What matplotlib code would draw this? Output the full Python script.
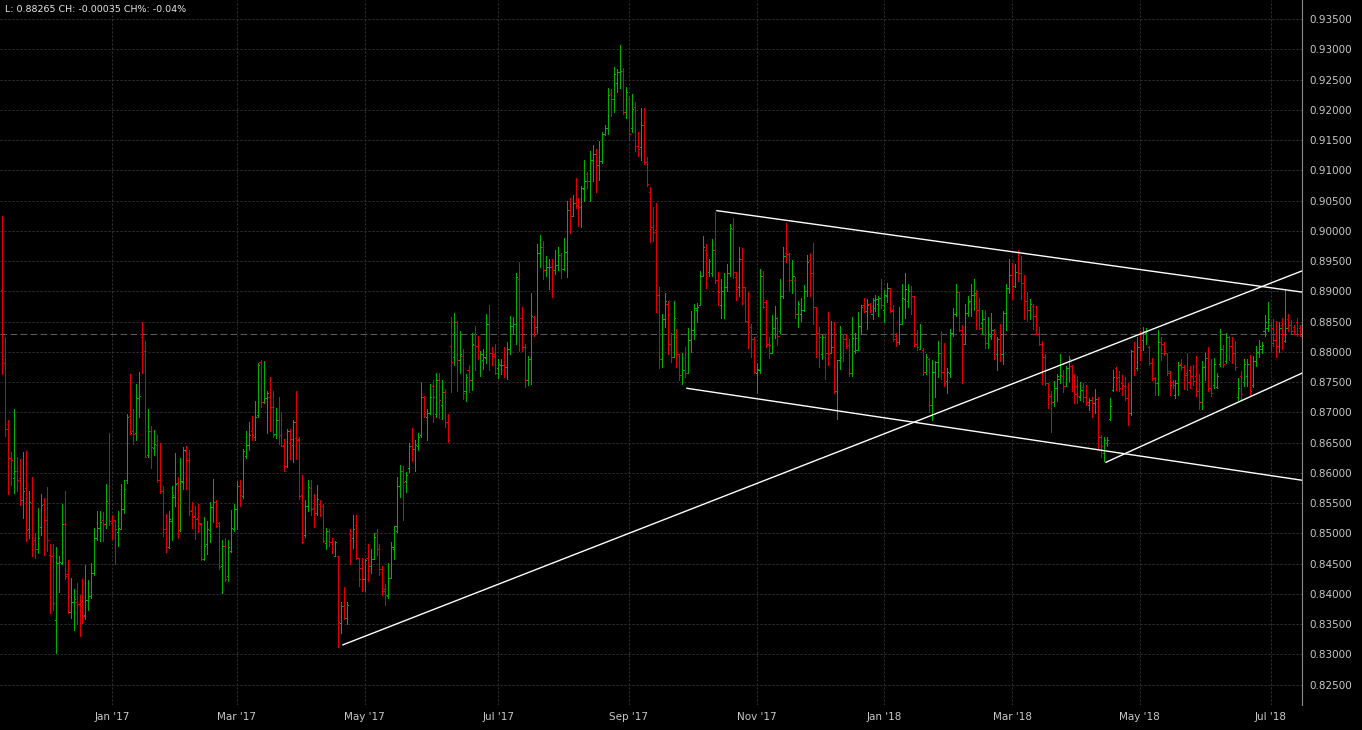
import numpy as np
import pandas as pd
import matplotlib
matplotlib.use("Agg")
import matplotlib.pyplot as plt

# daily OHLC, one bar per weekday from 10 Nov 2016
start_date = "2016-11-10"

opens = [
    .8903, .8782, .8673, .8624, .8591, .8604, .8591, .8555, .8576, .8507,
    .8551, .8489, .8474, .8511, .8548, .8523, .8464, .8463, .8357, .8451,
    .8451, .8515, .8433, .8371, .8386, .8387, .8384, .8387, .8365, .8390,
    .8396, .8435, .8493, .8509, .8522, .8516, .8550, .8517, .8522, .8502,
    .8508, .8541, .8588, .8694, .8669, .8666, .8724, .8824, .8802, .8629,
    .8669, .8641, .8647, .8589, .8570, .8508, .8478, .8520, .8560, .8583,
    .8506, .8585, .8637, .8621, .8538, .8529, .8526, .8515, .8458, .8482,
    .8506, .8544, .8552, .8518, .8446, .8479, .8429, .8471, .8507, .8541,
    .8579, .8562, .8628, .8646, .8669, .8660, .8696, .8784, .8717, .8724,
    .8725, .8709, .8665, .8687, .8662, .8647, .8611, .8670, .8647, .8657,
    .8656, .8564, .8497, .8545, .8576, .8542, .8534, .8549, .8545, .8485,
    .8504, .8486, .8463, .8462, .8352, .8380, .8361, .8500, .8493, .8514,
    .8460, .8443, .8424, .8460, .8447, .8458, .8500, .8474, .8441, .8408,
    .8396, .8427, .8475, .8504, .8578, .8604, .8586, .8608, .8645, .8640,
    .8644, .8662, .8726, .8693, .8699, .8743, .8698, .8753, .8713, .8734,
    .8684, .8810, .8791, .8849, .8787, .8794, .8735, .8770, .8753, .8812,
    .8810, .8791, .8786, .8790, .8846, .8798, .8797, .8774, .8779, .8779,
    .8775, .8805, .8843, .8847, .8920, .8856, .8808, .8753, .8788, .8858,
    .8841, .8964, .8973, .8935, .8940, .8941, .8936, .8943, .8961, .8937,
    .8965, .9034, .9025, .9047, .9043, .9039, .9069, .9095, .9083, .9117,
    .9128, .9109, .9116, .9160, .9170, .9227, .9218, .9245, .9262, .9265,
    .9196, .9218, .9171, .9205, .9141, .9138, .9176, .9114, .9065, .9007,
    .9001, .8895, .8789, .8855, .8880, .8813, .8792, .8825, .8797, .8762,
    .8771, .8765, .8819, .8836, .8869, .8877, .8925, .8968, .8932, .8930,
    .8968, .8919, .8877, .8901, .8907, .8930, .9003, .8924, .8907, .8954,
    .8908, .8849, .8841, .8822, .8766, .8770, .8926, .8882, .8813, .8799,
    .8840, .8856, .8834, .8893, .8964, .8962, .8919, .8919, .8863, .8863,
    .8869, .8900, .8952, .8931, .8875, .8831, .8796, .8824, .8799, .8798,
    .8808, .8735, .8786, .8824, .8821, .8812, .8766, .8802, .8803, .8843,
    .8877, .8868, .8879, .8862, .8873, .8879, .8890, .8870, .8892, .8906,
    .8870, .8827, .8816, .8847, .8888, .8884, .8901, .8892, .8813, .8805,
    .8804, .8767, .8788, .8712, .8767, .8784, .8799, .8767, .8752, .8766,
    .8832, .8862, .8899, .8836, .8813, .8864, .8884, .8895, .8895, .8870,
    .8848, .8854, .8815, .8826, .8837, .8796, .8821, .8796, .8865, .8906,
    .8928, .8909, .8932, .8931, .8914, .8884, .8869, .8876, .8859, .8829,
    .8813, .8791, .8748, .8727, .8717, .8740, .8755, .8760, .8744, .8774,
    .8777, .8760, .8744, .8726, .8742, .8726, .8713, .8721, .8715, .8722,
    .8659, .8633, .8649, .8689, .8737, .8773, .8758, .8748, .8744, .8724,
    .8699, .8801, .8773, .8809, .8820, .8831, .8809, .8781, .8757, .8748,
    .8817, .8814, .8798, .8765, .8751, .8729, .8748, .8780, .8776, .8765,
    .8770, .8760, .8760, .8735, .8718, .8775, .8790, .8740, .8745, .8742,
    .8780, .8805, .8785, .8825, .8810, .8798, .8725, .8760, .8750, .8760,
    .8780, .8745, .8785, .8800, .8805, .8835, .8840, .8845, .8840, .8830,
    .8810, .8845, .8818, .8855, .8845, .8842, .8850, .8840,
]

highs = [
    .9025, .8824, .8688, .8635, .8705, .8626, .8623, .8634, .8637, .8570,
    .8593, .8501, .8542, .8565, .8559, .8577, .8482, .8482, .8478, .8462,
    .8548, .8570, .8456, .8427, .8408, .8418, .8398, .8425, .8448, .8423,
    .8452, .8509, .8537, .8537, .8536, .8581, .8666, .8531, .8523, .8537,
    .8581, .8589, .8698, .8764, .8705, .8747, .8767, .8850, .8818, .8706,
    .8678, .8671, .8663, .8649, .8578, .8533, .8537, .8578, .8633, .8594,
    .8624, .8643, .8644, .8638, .8552, .8546, .8549, .8518, .8527, .8520,
    .8552, .8590, .8556, .8519, .8490, .8492, .8490, .8538, .8548, .8586,
    .8589, .8640, .8669, .8684, .8695, .8719, .8782, .8787, .8785, .8736,
    .8759, .8736, .8707, .8726, .8700, .8656, .8672, .8673, .8688, .8735,
    .8659, .8596, .8556, .8588, .8589, .8566, .8580, .8555, .8549, .8509,
    .8508, .8493, .8487, .8463, .8387, .8412, .8386, .8507, .8530, .8530,
    .8460, .8460, .8458, .8483, .8475, .8500, .8507, .8482, .8446, .8416,
    .8451, .8486, .8513, .8593, .8614, .8611, .8601, .8649, .8674, .8655,
    .8666, .8750, .8727, .8705, .8747, .8753, .8765, .8765, .8754, .8738,
    .8698, .8858, .8864, .8852, .8834, .8805, .8764, .8779, .8832, .8843,
    .8827, .8802, .8805, .8862, .8877, .8808, .8813, .8788, .8788, .8808,
    .8816, .8860, .8858, .8931, .8949, .8875, .8814, .8794, .8898, .8860,
    .8978, .8993, .8984, .8958, .8954, .8954, .8969, .8974, .8963, .8988,
    .9050, .9054, .9060, .9088, .9054, .9075, .9117, .9098, .9132, .9142,
    .9135, .9149, .9163, .9176, .9236, .9234, .9271, .9267, .9307, .9269,
    .9238, .9223, .9226, .9213, .9164, .9203, .9203, .9123, .9072, .9039,
    .9047, .8907, .8862, .8898, .8885, .8831, .8885, .8838, .8797, .8798,
    .8808, .8840, .8868, .8880, .8881, .8934, .8992, .8979, .8954, .8987,
    .9032, .8932, .8921, .8930, .8946, .9012, .9021, .8932, .8973, .8972,
    .8908, .8899, .8847, .8825, .8782, .8937, .8934, .8886, .8825, .8861,
    .8876, .8858, .8920, .8974, .9014, .8964, .8952, .8924, .8885, .8889,
    .8911, .8960, .8964, .8980, .8875, .8842, .8828, .8830, .8866, .8852,
    .8849, .8786, .8843, .8830, .8829, .8821, .8858, .8831, .8866, .8878,
    .8890, .8887, .8881, .8890, .8895, .8893, .8920, .8902, .8914, .8906,
    .8877, .8832, .8875, .8913, .8930, .8912, .8909, .8892, .8837, .8846,
    .8807, .8796, .8790, .8787, .8785, .8818, .8835, .8815, .8774, .8838,
    .8873, .8912, .8899, .8844, .8880, .8893, .8912, .8920, .8902, .8890,
    .8870, .8870, .8858, .8865, .8838, .8824, .8846, .8868, .8912, .8953,
    .8947, .8945, .8969, .8958, .8928, .8899, .8887, .8880, .8876, .8842,
    .8818, .8796, .8749, .8736, .8752, .8763, .8796, .8771, .8777, .8793,
    .8778, .8763, .8760, .8751, .8748, .8746, .8724, .8726, .8738, .8726,
    .8663, .8660, .8660, .8724, .8770, .8776, .8768, .8762, .8759, .8748,
    .8803, .8817, .8824, .8834, .8841, .8839, .8810, .8790, .8759, .8836,
    .8825, .8817, .8798, .8768, .8754, .8754, .8784, .8788, .8779, .8798,
    .8777, .8779, .8793, .8763, .8785, .8798, .8808, .8788, .8790, .8765,
    .8838, .8812, .8831, .8827, .8825, .8818, .8757, .8769, .8788, .8788,
    .8795, .8794, .8810, .8819, .8816, .8861, .8882, .8849, .8854, .8852,
    .8849, .8857, .8903, .8862, .8853, .8845, .8857, .8845,
]

lows = [
    .8763, .8661, .8566, .8580, .8567, .8571, .8547, .8525, .8488, .8493,
    .8463, .8459, .8468, .8497, .8465, .8471, .8368, .8374, .8302, .8404,
    .8449, .8424, .8369, .8360, .8340, .8351, .8330, .8352, .8358, .8373,
    .8394, .8431, .8490, .8488, .8488, .8509, .8514, .8491, .8449, .8479,
    .8507, .8534, .8584, .8665, .8648, .8654, .8693, .8766, .8626, .8627,
    .8609, .8629, .8585, .8567, .8496, .8469, .8476, .8490, .8546, .8493,
    .8504, .8573, .8573, .8531, .8509, .8491, .8502, .8456, .8456, .8466,
    .8486, .8519, .8510, .8441, .8402, .8421, .8421, .8470, .8504, .8508,
    .8546, .8558, .8624, .8638, .8654, .8655, .8693, .8709, .8716, .8666,
    .8669, .8660, .8658, .8648, .8644, .8604, .8610, .8623, .8618, .8623,
    .8557, .8485, .8494, .8537, .8530, .8511, .8530, .8529, .8486, .8475,
    .8479, .8468, .8462, .8313, .8336, .8359, .8350, .8449, .8476, .8457,
    .8414, .8405, .8405, .8421, .8435, .8457, .8465, .8432, .8399, .8381,
    .8394, .8427, .8458, .8502, .8560, .8523, .8568, .8601, .8619, .8603,
    .8638, .8660, .8693, .8655, .8698, .8684, .8692, .8691, .8690, .8676,
    .8651, .8734, .8779, .8736, .8765, .8723, .8719, .8734, .8737, .8770,
    .8788, .8761, .8772, .8781, .8770, .8779, .8763, .8757, .8764, .8759,
    .8755, .8796, .8831, .8814, .8801, .8802, .8742, .8745, .8747, .8827,
    .8832, .8940, .8921, .8926, .8904, .8891, .8929, .8935, .8923, .8936,
    .8924, .8996, .9024, .9038, .9009, .9007, .9050, .9071, .9050, .9083,
    .9064, .9084, .9112, .9158, .9161, .9190, .9196, .9230, .9237, .9194,
    .9186, .9150, .9163, .9132, .9124, .9117, .9110, .9075, .8981, .8983,
    .8866, .8774, .8776, .8842, .8796, .8784, .8791, .8775, .8754, .8747,
    .8759, .8765, .8800, .8822, .8849, .8877, .8925, .8906, .8926, .8926,
    .8914, .8877, .8857, .8857, .8900, .8925, .8923, .8886, .8893, .8880,
    .8851, .8807, .8792, .8765, .8732, .8766, .8873, .8809, .8790, .8798,
    .8823, .8812, .8831, .8889, .8948, .8902, .8897, .8856, .8841, .8852,
    .8867, .8893, .8893, .8846, .8791, .8775, .8788, .8755, .8779, .8798,
    .8732, .8690, .8772, .8785, .8807, .8760, .8760, .8799, .8803, .8829,
    .8866, .8838, .8866, .8855, .8868, .8859, .8873, .8849, .8882, .8866,
    .8818, .8810, .8814, .8846, .8857, .8875, .8862, .8810, .8804, .8805,
    .8762, .8763, .8700, .8688, .8725, .8758, .8755, .8743, .8733, .8758,
    .8827, .8859, .8835, .8749, .8813, .8859, .8859, .8870, .8838, .8838,
    .8829, .8807, .8807, .8821, .8788, .8771, .8785, .8780, .8837, .8898,
    .8887, .8908, .8917, .8887, .8854, .8851, .8854, .8838, .8829, .8811,
    .8747, .8745, .8708, .8668, .8711, .8719, .8749, .8734, .8744, .8752,
    .8736, .8715, .8716, .8721, .8718, .8713, .8704, .8693, .8699, .8641,
    .8627, .8619, .8644, .8688, .8735, .8737, .8736, .8729, .8721, .8680,
    .8696, .8762, .8770, .8787, .8804, .8814, .8779, .8754, .8729, .8729,
    .8787, .8795, .8762, .8729, .8740, .8724, .8729, .8770, .8738, .8737,
    .8741, .8746, .8727, .8706, .8705, .8754, .8735, .8727, .8741, .8741,
    .8777, .8776, .8782, .8787, .8782, .8771, .8721, .8721, .8744, .8744,
    .8727, .8742, .8777, .8791, .8799, .8827, .8835, .8802, .8810, .8791,
    .8800, .8805, .8816, .8834, .8831, .8829, .8826, .8826,
]

closes = [
    .8794, .8673, .8624, .8621, .8604, .8589, .8555, .8570, .8505, .8552,
    .8482, .8474, .8492, .8547, .8522, .8490, .8463, .8385, .8452, .8453,
    .8515, .8430, .8397, .8386, .8391, .8384, .8380, .8364, .8390, .8396,
    .8435, .8493, .8509, .8519, .8516, .8553, .8520, .8513, .8507, .8509,
    .8540, .8573, .8693, .8666, .8665, .8724, .8727, .8796, .8627, .8669,
    .8643, .8648, .8588, .8571, .8507, .8478, .8524, .8564, .8582, .8506,
    .8586, .8638, .8621, .8537, .8527, .8524, .8518, .8458, .8480, .8507,
    .8544, .8552, .8513, .8445, .8479, .8425, .8478, .8509, .8541, .8578,
    .8563, .8636, .8647, .8662, .8662, .8693, .8779, .8717, .8724, .8733,
    .8709, .8662, .8687, .8662, .8645, .8611, .8669, .8656, .8684, .8655,
    .8562, .8486, .8545, .8577, .8540, .8534, .8557, .8531, .8487, .8504,
    .8486, .8474, .8486, .8354, .8380, .8361, .8381, .8490, .8507, .8460,
    .8424, .8409, .8456, .8446, .8458, .8495, .8474, .8441, .8405, .8399,
    .8427, .8477, .8512, .8579, .8603, .8585, .8597, .8645, .8640, .8647,
    .8659, .8725, .8695, .8699, .8725, .8726, .8753, .8720, .8734, .8684,
    .8655, .8784, .8849, .8787, .8796, .8732, .8758, .8753, .8813, .8810,
    .8791, .8797, .8791, .8846, .8799, .8794, .8765, .8780, .8779, .8775,
    .8805, .8843, .8847, .8924, .8856, .8808, .8753, .8788, .8860, .8842,
    .8964, .8973, .8935, .8941, .8941, .8936, .8943, .8961, .8937, .8965,
    .9034, .9024, .9047, .9043, .9039, .9071, .9083, .9083, .9117, .9128,
    .9109, .9116, .9160, .9171, .9225, .9218, .9260, .9262, .9264, .9196,
    .9229, .9161, .9201, .9141, .9135, .9175, .9114, .9077, .9007, .8998,
    .8895, .8789, .8855, .8885, .8813, .8792, .8857, .8797, .8762, .8771,
    .8765, .8819, .8836, .8873, .8875, .8925, .8973, .8961, .8950, .8968,
    .8919, .8899, .8901, .8907, .8930, .9005, .8932, .8904, .8954, .8908,
    .8852, .8833, .8822, .8767, .8772, .8926, .8874, .8812, .8812, .8840,
    .8856, .8827, .8893, .8959, .8962, .8919, .8925, .8863, .8879, .8869,
    .8900, .8948, .8931, .8875, .8831, .8824, .8824, .8799, .8796, .8808,
    .8735, .8786, .8792, .8821, .8810, .8766, .8823, .8823, .8843, .8874,
    .8868, .8877, .8869, .8886, .8888, .8890, .8877, .8895, .8906, .8868,
    .8821, .8816, .8847, .8890, .8904, .8901, .8892, .8813, .8809, .8829,
    .8767, .8792, .8712, .8767, .8784, .8799, .8767, .8749, .8767, .8832,
    .8862, .8899, .8836, .8813, .8864, .8882, .8895, .8897, .8870, .8840,
    .8854, .8815, .8829, .8837, .8804, .8821, .8796, .8865, .8906, .8928,
    .8909, .8932, .8931, .8914, .8884, .8870, .8879, .8859, .8830, .8813,
    .8791, .8748, .8727, .8718, .8740, .8760, .8762, .8744, .8774, .8788,
    .8760, .8730, .8727, .8737, .8726, .8718, .8721, .8715, .8722, .8659,
    .8644, .8655, .8655, .8711, .8759, .8757, .8740, .8746, .8724, .8699,
    .8801, .8770, .8809, .8803, .8834, .8835, .8781, .8757, .8748, .8817,
    .8798, .8801, .8768, .8746, .8746, .8748, .8779, .8776, .8762, .8751,
    .8760, .8752, .8735, .8718, .8775, .8790, .8740, .8732, .8780, .8760,
    .8805, .8780, .8825, .8810, .8798, .8775, .8740, .8730, .8780, .8780,
    .8735, .8785, .8800, .8810, .8812, .8850, .8855, .8815, .8820, .8810,
    .8840, .8830, .8840, .8845, .8835, .8835, .8830, .88265,
]

# hand-drawn trend lines: start bar/price, end bar/price
trend_x0 = [114.7, 240.6, 230.5, 371.6]
trend_y0 = [0.8316, 0.90336, 0.8740, 0.86177]
trend_x1 = [437.6, 437.6, 437.6, 437.6]
trend_y1 = [0.8934, 0.8899, 0.8588, 0.8765]

last_price = 0.88265
prev_close = 0.88300
change = -0.00035
change_pct = -0.04

yticks = np.arange(0.825, 0.9351, 0.005)

assert len(opens) == len(highs) == len(lows) == len(closes), \
    (len(opens), len(highs), len(lows), len(closes))

dates = pd.bdate_range(start_date, periods=len(closes))
x = np.arange(len(closes))
o = np.array(opens)
h = np.array(highs)
l = np.array(lows)
c = np.array(closes)
cols = np.where(c >= o, "#00b000", "#e00000")

fig = plt.figure(figsize=(13.62, 7.30), dpi=100, facecolor="black")
ax = fig.add_axes([0, 25 / 730, 1302 / 1362, 705 / 730])
ax.set_facecolor("black")
ax.set_xlim(-0.77, 437.6)
ax.set_ylim(0.82165, 0.93818)

# grid
ax.set_axisbelow(True)
ax.grid(True, color="#333333", linestyle=(0, (2, 2)), linewidth=0.72)

# previous close
ax.axhline(prev_close, color="#5a5a5a", lw=0.8, linestyle=(0, (6, 3)), zorder=1)

# ohlc bars: thin high-low stick, short open/close ticks
ax.vlines(x, l, h, colors=cols, linewidth=0.72, antialiased=False, zorder=2)
ax.hlines(o, x - 0.4, x, colors=cols, linewidth=0.72, antialiased=False, zorder=2)
ax.hlines(c, x, x + 0.4, colors=cols, linewidth=0.72, antialiased=False, zorder=2)

for i in range(len(trend_x0)):
    ax.plot([trend_x0[i], trend_x1[i]], [trend_y0[i], trend_y1[i]],
            color="white", lw=1.0, zorder=3)

# axes
ax.set_yticks(yticks)
ax.set_yticklabels([f"{v:.5f}" for v in yticks])
ax.yaxis.tick_right()
month_pos = [i for i in range(1, len(dates))
             if dates[i].month != dates[i - 1].month and dates[i].month % 2 == 1]
ax.set_xticks(month_pos)
ax.set_xticklabels([f"{dates[i]:%b} '{dates[i]:%y}" for i in month_pos])
ax.tick_params(axis="y", colors="#c8c8c8", length=0, pad=5, labelsize=7.5)
ax.tick_params(axis="x", colors="#c8c8c8", length=0, pad=5, labelsize=7.5)
for s in ["top", "left", "bottom"]:
    ax.spines[s].set_visible(False)
ax.spines["right"].set_color("#8c8c8c")

fig.text(5 / 1362, 1 - 9 / 730,
         f"L: {last_price:.5f} CH: {change:.5f} CH%: {change_pct:.2f}%",
         color="#e6e6e6", fontsize=6.8, va="center", ha="left")

fig.savefig("out.png", dpi=100, facecolor="black")
